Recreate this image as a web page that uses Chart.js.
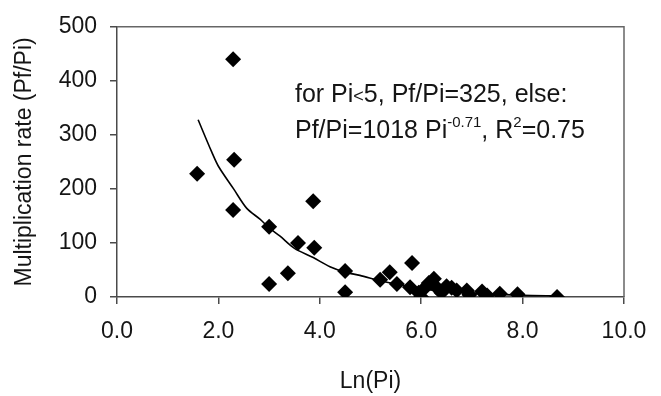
<!DOCTYPE html>
<html>
<head>
<meta charset="utf-8">
<script src="https://cdn.jsdelivr.net/npm/chart.js@4/dist/chart.umd.min.js"></script>
<style>
  html, body { margin: 0; padding: 0; background: #fff; }
  #c { display: block; }
</style>
</head>
<body>
<canvas id="c" width="661" height="396"></canvas>
<script>
// observed points: x = Ln(Pi), y = Pf/Pi
const lnPi = [1.58, 2.29, 2.31, 2.29, 3.0, 3.0, 3.37, 3.57, 3.87, 3.89, 4.5, 4.5,
  5.19, 5.38, 5.52, 5.78, 5.82, 5.95, 6.0, 6.05, 6.15, 6.25, 6.3, 6.4, 6.5, 6.6,
  6.7, 6.9, 6.95, 7.2, 7.3, 7.55, 7.9, 8.68];
const rate = [228, 440, 254, 161, 130, 24, 44, 100, 177, 91, 48, 9,
  32, 46, 24, 18, 63, 8, 0, 15, 26, 34, 18, 8, 20, 17,
  12, 12, 4, 10, 3, 6, 5, 0];

// fitted curve
const fitX = [1.6, 1.87, 2.0, 2.3, 2.56, 2.82, 3.0, 3.21, 3.5, 3.87, 4.2, 4.5, 4.79,
  5.2, 5.6, 6.0, 6.5, 7.0, 7.5, 8.0, 8.68];
const fitY = [328, 268, 242, 200, 164, 144, 128, 113, 90, 73, 56, 46, 40,
  30, 22, 15, 11, 7, 5, 3, 2];

const xTicks = [0, 2, 4, 6, 8, 10];
const yTicks = [0, 100, 200, 300, 400, 500];

const axisColor = '#4a4a4a';
const textColor = '#151515';
const font = 'Liberation Sans, Arial, sans-serif';

const boxPlugin = {
  id: 'box',
  afterDraw(chart) {
    const { ctx, chartArea: a } = chart;
    ctx.save();
    ctx.strokeStyle = '#666';
    ctx.lineWidth = 1.5;
    ctx.beginPath();
    ctx.moveTo(a.left, a.top);
    ctx.lineTo(a.right, a.top);
    ctx.lineTo(a.right, a.bottom);
    ctx.stroke();

    // equation text
    ctx.fillStyle = textColor;
    ctx.textBaseline = 'alphabetic';
    let x = 295, y = 102;
    const big = '25px ' + font, small = '15px ' + font, lt = '18px ' + font;
    const parts1 = [['for Pi', big, 0], ['<', lt, 0], ['5, Pf/Pi=325, else:', big, 0]];
    const parts2 = [['Pf/Pi=1018 Pi', big, 0], ['-0.71', small, -11], [', R', big, 0],
      ['2', small, -11], ['=0.75', big, 0]];
    for (const [t, f, dy] of parts1) {
      ctx.font = f;
      ctx.fillText(t, x, y + dy);
      x += ctx.measureText(t).width;
    }
    x = 295; y = 138;
    for (const [t, f, dy] of parts2) {
      ctx.font = f;
      ctx.fillText(t, x, y + dy);
      x += ctx.measureText(t).width;
    }
    ctx.restore();
  }
};

new Chart(document.getElementById('c'), {
  type: 'scatter',
  data: {
    datasets: [{
      label: 'fit',
      data: fitX.map((x, i) => ({ x: x, y: fitY[i] })),
      showLine: true,
      borderColor: '#000',
      borderWidth: 1.6,
      pointRadius: 0,
      tension: 0.3,
      order: 2
    }, {
      label: 'Pf/Pi',
      data: lnPi.map((x, i) => ({ x: x, y: rate[i] })),
      pointStyle: 'rectRot',
      pointRadius: 8,
      backgroundColor: '#000',
      borderColor: '#000',
      borderWidth: 0,
      order: 1
    }]
  },
  options: {
    responsive: false,
    animation: false,
    layout: { padding: { top: 23, right: 37, left: 0, bottom: 0 } },
    plugins: {
      legend: { display: false },
      tooltip: { enabled: false }
    },
    scales: {
      x: {
        type: 'linear',
        min: 0,
        max: 10,
        afterFit: (s) => { s.height = 99; },
        afterBuildTicks: (s) => { s.ticks = xTicks.map(v => ({ value: v })); },
        border: { display: true, color: axisColor, width: 1.5 },
        grid: { drawOnChartArea: false, drawTicks: true, tickLength: 7, color: axisColor, lineWidth: 1.5 },
        ticks: {
          color: textColor,
          padding: 14,
          maxRotation: 0,
          font: { family: font, size: 23 },
          callback: (v) => v.toFixed(1)
        },
        title: {
          display: true,
          text: 'Ln(Pi)',
          color: textColor,
          font: { family: font, size: 23 },
          padding: { top: 0, bottom: 1 }
        }
      },
      y: {
        min: 0,
        max: 500,
        afterFit: (s) => { s.width = 117; },
        afterBuildTicks: (s) => { s.ticks = yTicks.map(v => ({ value: v })); },
        border: { display: true, color: axisColor, width: 1.5 },
        grid: { drawOnChartArea: false, drawTicks: true, tickLength: 7, color: axisColor, lineWidth: 1.5 },
        ticks: {
          color: textColor,
          padding: 13,
          font: { family: font, size: 23 }
        },
        title: {
          display: true,
          text: 'Multiplication rate (Pf/Pi)',
          color: textColor,
          font: { family: font, size: 23 },
          padding: { top: 11, bottom: 0 }
        }
      }
    }
  },
  plugins: [boxPlugin]
});
</script>
</body>
</html>
